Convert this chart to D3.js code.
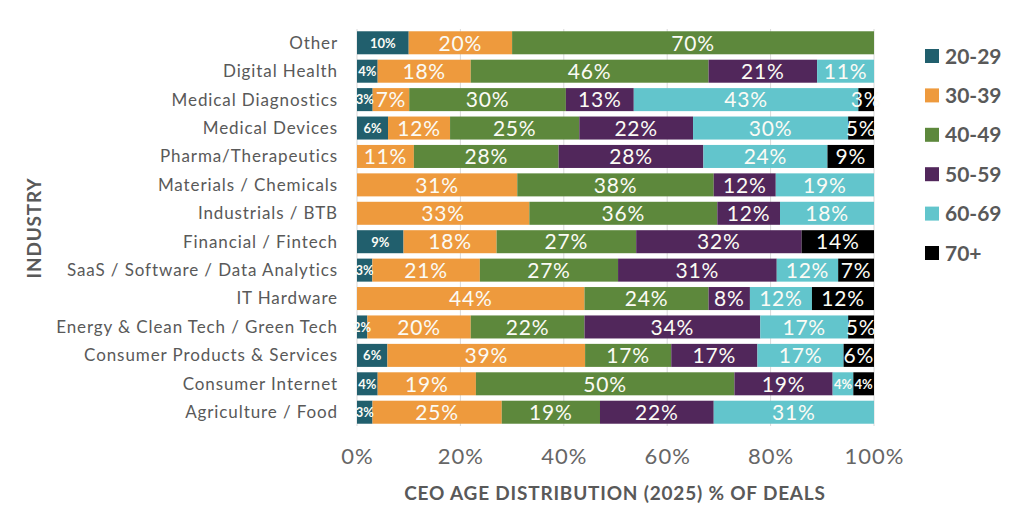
<!DOCTYPE html>
<html>
<head>
<meta charset="utf-8">
<script src="https://cdn.jsdelivr.net/npm/d3@7"></script>
<style>
  body { margin: 0; background: #fff; }
  svg { font-family: Lato, "Open Sans", sans-serif; }
</style>
</head>
<body>
<div id="chart"></div>
<script>
// Industries, top to bottom
var industries = ["Other", "Digital Health", "Medical Diagnostics", "Medical Devices",
  "Pharma/Therapeutics", "Materials / Chemicals", "Industrials / BTB", "Financial / Fintech",
  "SaaS / Software / Data Analytics", "IT Hardware", "Energy & Clean Tech / Green Tech",
  "Consumer Products & Services", "Consumer Internet", "Agriculture / Food"];

// Age groups (series)
var ageGroups = ["20-29", "30-39", "40-49", "50-59", "60-69", "70+"];

// Share of deals per age group, one value per industry (same order as industries)
var age20_29 = [10, 4, 3, 6, 0, 0, 0, 9, 3, 0, 2, 6, 4, 3];
var age30_39 = [20, 18, 7, 12, 11, 31, 33, 18, 21, 44, 20, 39, 19, 25];
var age40_49 = [70, 46, 30, 25, 28, 38, 36, 27, 27, 24, 22, 17, 50, 19];
var age50_59 = [0, 21, 13, 22, 28, 12, 12, 32, 31, 8, 34, 17, 19, 22];
var age60_69 = [0, 11, 43, 30, 24, 19, 18, 0, 12, 12, 17, 17, 4, 31];
var age70p   = [0, 0, 3, 5, 9, 0, 0, 14, 7, 12, 5, 6, 4, 0];

var xTicks = [0, 0.2, 0.4, 0.6, 0.8, 1];

var colors = ["#215f6d", "#ee9a3d", "#5d883c", "#51275b", "#62c5cc", "#000000"];

var series = [age20_29, age30_39, age40_49, age50_59, age60_69, age70p];

// build rows for d3.stack
var rows = industries.map(function (name, i) {
  var r = { industry: name };
  ageGroups.forEach(function (g, j) { r[g] = series[j][i]; });
  return r;
});

var W = 1024, H = 523;
var margin = { top: 29, right: 150, bottom: 97, left: 357 };
var width = 874 - margin.left,
    height = H - margin.top - margin.bottom;

var svg = d3.select("#chart")
  .append("svg")
    .attr("width", W)
    .attr("height", H);

var g = svg.append("g")
  .attr("transform", "translate(" + margin.left + "," + margin.top + ")");

var x = d3.scaleLinear().domain([0, 1]).range([0, width]);
var y = d3.scaleBand().domain(industries).range([0, height]).paddingInner(0.19).paddingOuter(0.08);

// vertical gridlines
g.selectAll(".grid")
  .data(xTicks)
  .enter()
  .append("line")
    .attr("x1", function (d) { return x(d); })
    .attr("x2", function (d) { return x(d); })
    .attr("y1", 0)
    .attr("y2", height)
    .style("stroke", "#d9d9d9")
    .style("stroke-width", 1);

var stack = d3.stack().keys(ageGroups).offset(d3.stackOffsetExpand);
var layers = stack(rows);

var layer = g.selectAll(".layer")
  .data(layers)
  .enter()
  .append("g")
    .attr("fill", function (d, i) { return colors[i]; });

layer.selectAll("rect")
  .data(function (d) { return d; })
  .enter()
  .append("rect")
    .attr("x", function (d) { return x(d[0]); })
    .attr("y", function (d) { return y(d.data.industry); })
    .attr("width", function (d) { return x(d[1]) - x(d[0]); })
    .attr("height", y.bandwidth());

// value labels
layers.forEach(function (L, i) {
  g.selectAll(".lbl" + i)
    .data(L.filter(function (d) { return d.data[L.key] > 0; }))
    .enter()
    .append("text")
      .attr("x", function (d) { return x((d[0] + d[1]) / 2); })
      .attr("y", function (d) { return y(d.data.industry) + y.bandwidth() / 2; })
      .attr("dy", "0.37em")
      .attr("text-anchor", "middle")
      .style("fill", "#fbfbf5")
      .style("font-size", function (d) {
        var v = d.data[L.key];
        return (i === 0 || v === 4) ? "13px" : "21px";
      })
      .style("letter-spacing", function (d) {
        var v = d.data[L.key];
        return (i === 0 || v === 4) ? "0px" : "0.8px";
      })
      .style("font-weight", function (d) {
        var v = d.data[L.key];
        return (i === 0 || v === 4) ? "bold" : "normal";
      })
      .text(function (d) { return d.data[L.key] + "%"; });
});

// category labels
g.selectAll(".cat")
  .data(industries)
  .enter()
  .append("text")
    .attr("x", -19)
    .attr("y", function (d) { return y(d) + y.bandwidth() / 2; })
    .attr("dy", "0.35em")
    .attr("text-anchor", "end")
    .style("fill", "#595959")
    .style("font-size", "17px")
    .style("letter-spacing", "0.9px")
    .text(function (d) { return d; });

// x axis
var xAxis = g.append("g")
  .attr("transform", "translate(0," + height + ")")
  .call(d3.axisBottom(x).tickValues(xTicks).tickFormat(d3.format(".0%")).tickSize(0).tickPadding(22));
xAxis.select(".domain").remove();
xAxis.selectAll("text")
  .style("font-family", "Lato, sans-serif")
  .style("font-size", "22px")
  .style("letter-spacing", "1px")
  .style("fill", "#666");

// x axis title
svg.append("text")
  .attr("x", 615)
  .attr("y", 500)
  .attr("text-anchor", "middle")
  .style("font-size", "19px")
  .style("font-weight", "bold")
  .style("letter-spacing", "0.8px")
  .style("fill", "#595959")
  .text("CEO AGE DISTRIBUTION (2025) % OF DEALS");

// y axis title
svg.append("text")
  .attr("transform", "translate(41,228) rotate(-90)")
  .attr("text-anchor", "middle")
  .style("font-size", "19px")
  .style("font-weight", "bold")
  .style("letter-spacing", "0.8px")
  .style("fill", "#595959")
  .text("INDUSTRY");

// legend
var legend = svg.selectAll(".legend")
  .data(ageGroups)
  .enter()
  .append("g")
    .attr("transform", function (d, i) { return "translate(925," + (56 + i * 39.4) + ")"; });

legend.append("rect")
  .attr("x", 0)
  .attr("y", -7)
  .attr("width", 14)
  .attr("height", 14)
  .style("fill", function (d, i) { return colors[i]; });

legend.append("text")
  .attr("x", 20)
  .attr("dy", "0.36em")
  .style("font-size", "21px")
  .style("font-weight", "bold")
  .style("fill", "#595959")
  .text(function (d) { return d; });
</script>
</body>
</html>
